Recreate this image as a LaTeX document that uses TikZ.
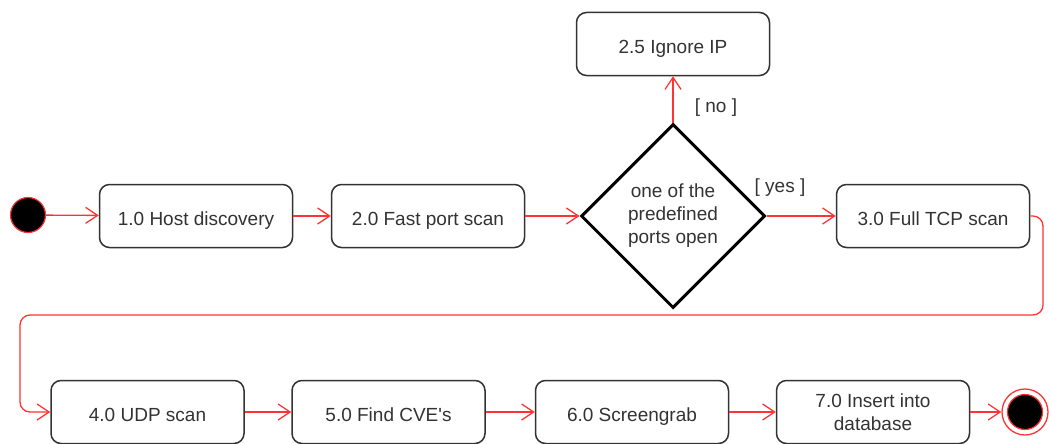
\documentclass[tikz,border=0pt]{standalone}
\usepackage{fontspec}
\setmainfont{Liberation Sans}
\usetikzlibrary{arrows.meta,shapes.geometric}
\definecolor{flowred}{RGB}{255,51,51}
\definecolor{boxgray}{RGB}{51,51,51}
\begin{document}
\begin{tikzpicture}[x=1pt,y=-1pt,
  font=\fontsize{19}{23}\selectfont,
  every node/.style={text=boxgray},
  action/.style={draw=boxgray, line width=1.5pt, rounded corners=10pt, fill=white,
    minimum width=193pt, minimum height=63pt, inner sep=0pt, align=center,
    text height=23pt, text depth=4pt},
  decision/.style={draw=black, line width=3pt, shape=diamond, aspect=1,
    minimum width=184pt, minimum height=184pt, inner sep=0pt, align=center},
  flow/.style={draw=flowred, line width=1.3pt,
    -{Straight Barb[length=12pt,width=16pt,line width=1.3pt]}},
  guard/.style={font=\fontsize{19}{23}\selectfont},
  startdot/.style={circle, fill=black, draw=flowred, line width=1.2pt, minimum size=35pt, inner sep=0pt},
  endring/.style={circle, fill=white, draw=flowred, line width=1.3pt, minimum size=46pt, inner sep=0pt},
  enddot/.style={circle, fill=black, draw=flowred, line width=1.2pt, minimum size=35pt, inner sep=0pt}
]
\useasboundingbox (0,0) rectangle (1049,444);

% upper row
\node[startdot] (start) at (28,215) {};
\node[action] (b1) at (196,216) {1.0 Host discovery};
\node[action] (b2) at (428,216) {2.0 Fast port scan};
\node[decision] (dec) at (673,216) {one of the\\predefined\\ports open};
\node[action] (ign) at (673,44) {2.5 Ignore IP};
\node[action] (b3) at (933,216) {3.0 Full TCP scan};

% lower row
\node[action] (b4) at (147.5,412) {4.0 UDP scan};
\node[action] (b5) at (388.5,412) {5.0 Find CVE\textquotesingle s};
\node[action] (b6) at (632,412) {6.0 Screengrab};
\node[action, text height=41pt, text depth=4pt] (b7) at (873,412) {7.0 Insert into\\database};
\node[endring] (endo) at (1025,412) {};
\node[enddot] (endi) at (1025,412) {};

% guards
\node[guard] (gno) at (716,108) {[ no ]};
\node[guard] (gyes) at (780,188) {[ yes ]};

% control flow
\draw[flow] (start) -- (b1);
\draw[flow] (b1) -- (b2);
\draw[flow] (b2) -- (dec.west);
\draw[flow] (dec.north) -- (ign);
\draw[flow] (dec.east) -- (b3);
\coordinate (loopR) at (1043,315);
\coordinate (loopL) at (20,315);
\draw[flow, rounded corners=10pt] (b3.east) -| (loopR) -- (loopL) |- (b4.west);
\draw[flow] (b4) -- (b5);
\draw[flow] (b5) -- (b6);
\draw[flow] (b6) -- (b7);
\draw[flow] (b7) -- (endo);
\end{tikzpicture}
\end{document}
